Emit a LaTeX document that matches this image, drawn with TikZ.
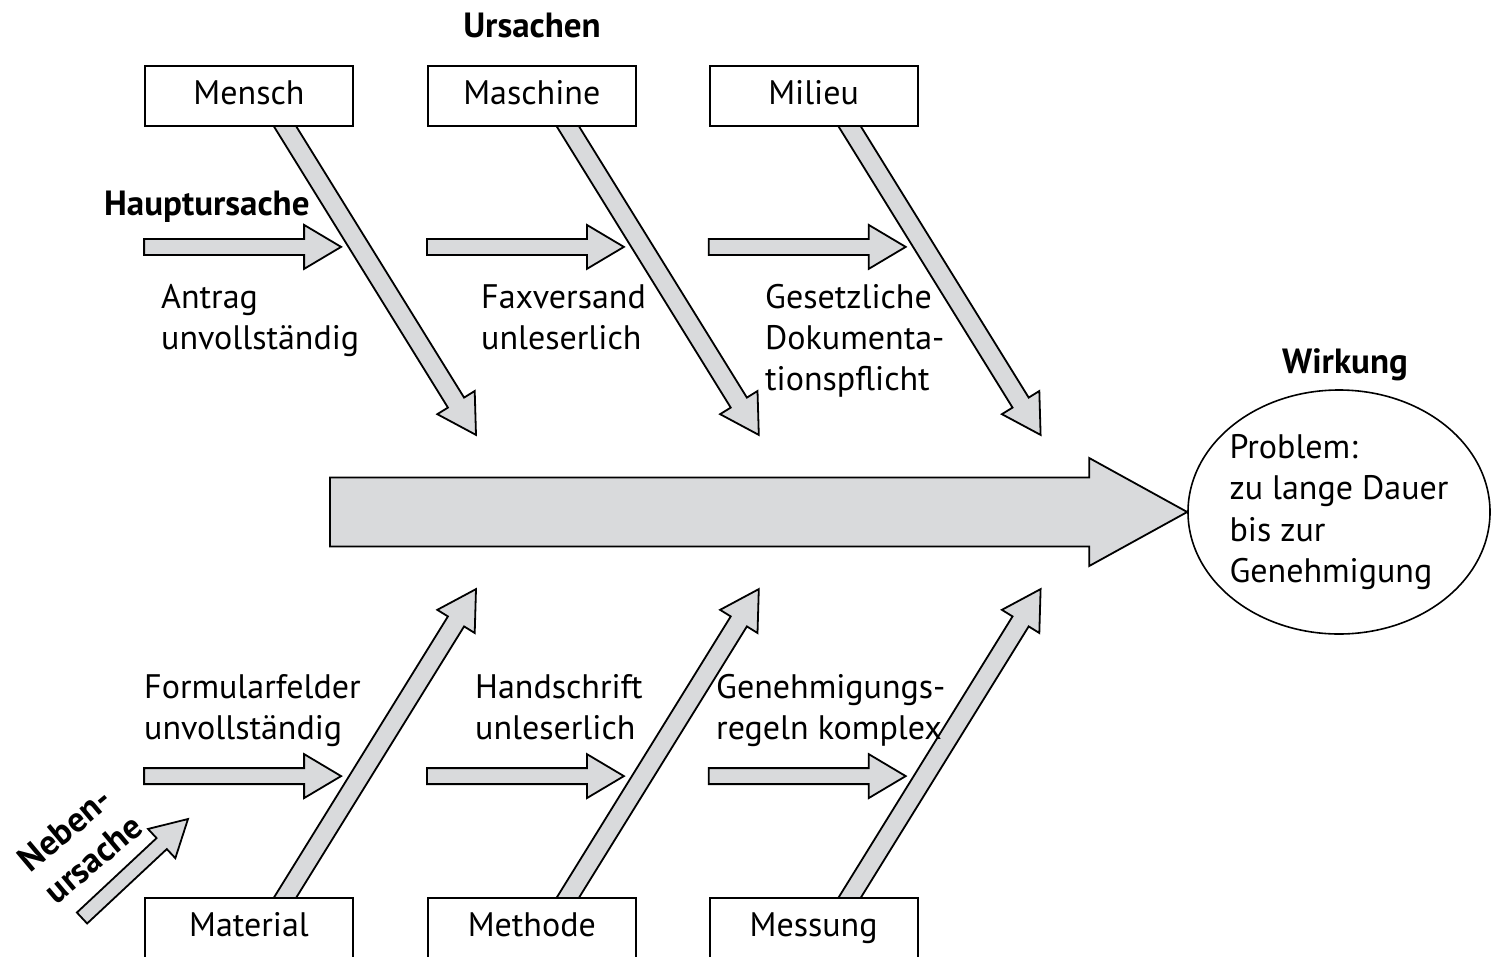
\documentclass[tikz,border=0pt]{standalone}
\usepackage{fontspec}
\setmainfont{PT Sans}
\usetikzlibrary{shapes.geometric, positioning, calc, backgrounds}
\definecolor{arrowgray}{RGB}{217,218,220}
\tikzset{
    cause/.style={rectangle, minimum width=208pt, minimum height=60pt, text height=24pt, text depth=8pt, text centered, draw=black, fill=white, line width=1.8pt, font=\fontsize{34}{41}\selectfont},
    effect/.style={ellipse, draw=black, fill=white, line width=1.6pt, inner xsep=-3pt, inner ysep=0pt, minimum width=302pt, minimum height=244pt, align=left, font=\fontsize{34}{41.5}\selectfont},
    note/.style={align=left, inner sep=0pt, anchor=base west, font=\fontsize{34}{41}\selectfont},
    heading/.style={inner sep=0pt, anchor=base, font=\fontsize{35}{41}\selectfont\bfseries},
    blockarrow/.style={draw=black, fill=arrowgray, line width=1.8pt}
}
% tail, tip, half shaft, half head, head length
\newcommand{\blockarrow}[5]{%
    \draw[blockarrow] ($(#1)!#3!90:(#2)$) -- ($(#2)!#5!(#1)!#3!-90:(#1)$) -- ($(#2)!#5!(#1)!#4!-90:(#1)$) -- (#2)
        -- ($(#2)!#5!(#1)!#4!90:(#1)$) -- ($(#2)!#5!(#1)!#3!90:(#1)$) -- ($(#1)!#3!-90:(#2)$) -- cycle;}

\begin{document}
\begin{tikzpicture}[x=1pt, y=-1pt]
        \useasboundingbox (0,0) rectangle (1491,956);

        % Nodes
        \node (mensch) [cause] at (249,96) {Mensch};
        \node (maschine) [cause, right=73pt of mensch] {Maschine};
        \node (milieu) [cause, right=72pt of maschine] {Milieu};
        \node (material) [cause] at (249,928) {Material};
        \node (methode) [cause, right=73pt of material] {Methode};
        \node (messung) [cause, right=72pt of methode] {Messung};
        \node (problem) [effect] at (1339,512) {Problem:\\zu lange Dauer\\bis zur\\Genehmigung};

        % Headings
        \node (ursachen) [heading] at (532,37) {Ursachen};
        \node (haupt) [heading, anchor=base west] at (104,215) {Hauptursache};
        \node (wirkung) [heading] at (1345,373) {Wirkung};
        \node (neben) [heading, anchor=center, align=left, rotate=40] at (80,843) {Neben-\\ursache};

        % Labels (placed at the baseline of their last line)
        \node (antrag) [note] at (161,349) {Antrag\\unvollständig};
        \node (fax) [note] at (481,349) {Faxversand\\unleserlich};
        \node (gesetz) [note] at (765,390) {Gesetzliche\\Dokumenta-\\tionspflicht};
        \node (formular) [note] at (144,739) {Formularfelder\\unvollständig};
        \node (handschrift) [note] at (475,739) {Handschrift\\unleserlich};
        \node (regeln) [note] at (716,739) {Genehmigungs-\\regeln komplex};

        % Arrow ends
        \coordinate (spine) at (330,512);
        \coordinate (mensch-in) at ($(mensch.south)+(24,-20)$);
        \coordinate (mensch-out) at ($(mensch.south)+(227,308)$);
        \coordinate (maschine-in) at ($(maschine.south)+(24,-20)$);
        \coordinate (maschine-out) at ($(maschine.south)+(227,308)$);
        \coordinate (milieu-in) at ($(milieu.south)+(24,-20)$);
        \coordinate (milieu-out) at ($(milieu.south)+(227,308)$);
        \coordinate (material-in) at ($(material.north)+(24,20)$);
        \coordinate (material-out) at ($(material.north)+(227,-308)$);
        \coordinate (methode-in) at ($(methode.north)+(24,20)$);
        \coordinate (methode-out) at ($(methode.north)+(227,-308)$);
        \coordinate (messung-in) at ($(messung.north)+(24,20)$);
        \coordinate (messung-out) at ($(messung.north)+(227,-308)$);
        \coordinate (antrag-in) at ($(mensch.south west)+(0,120)$);
        \coordinate (antrag-out) at ($(mensch.south west)+(197,120)$);
        \coordinate (fax-in) at ($(maschine.south west)+(0,120)$);
        \coordinate (fax-out) at ($(maschine.south west)+(197,120)$);
        \coordinate (gesetz-in) at ($(milieu.south west)+(0,120)$);
        \coordinate (gesetz-out) at ($(milieu.south west)+(197,120)$);
        \coordinate (formular-in) at ($(material.north west)+(0,-121)$);
        \coordinate (formular-out) at ($(material.north west)+(197,-121)$);
        \coordinate (handschrift-in) at ($(methode.north west)+(0,-121)$);
        \coordinate (handschrift-out) at ($(methode.north west)+(197,-121)$);
        \coordinate (regeln-in) at ($(messung.north west)+(0,-121)$);
        \coordinate (regeln-out) at ($(messung.north west)+(197,-121)$);
        \coordinate (neben-in) at (82,918);
        \coordinate (neben-out) at (188,819);

        % Arrows
        \begin{scope}[on background layer]
            \blockarrow{spine}{problem.west}{34.5pt}{54pt}{98pt}
            \blockarrow{mensch-in}{mensch-out}{9.5pt}{22pt}{38pt}
            \blockarrow{maschine-in}{maschine-out}{9.5pt}{22pt}{38pt}
            \blockarrow{milieu-in}{milieu-out}{9.5pt}{22pt}{38pt}
            \blockarrow{material-in}{material-out}{9.5pt}{22pt}{38pt}
            \blockarrow{methode-in}{methode-out}{9.5pt}{22pt}{38pt}
            \blockarrow{messung-in}{messung-out}{9.5pt}{22pt}{38pt}
            \blockarrow{antrag-in}{antrag-out}{8pt}{22pt}{37pt}
            \blockarrow{fax-in}{fax-out}{8pt}{22pt}{37pt}
            \blockarrow{gesetz-in}{gesetz-out}{8pt}{22pt}{37pt}
            \blockarrow{formular-in}{formular-out}{8pt}{22pt}{37pt}
            \blockarrow{handschrift-in}{handschrift-out}{8pt}{22pt}{37pt}
            \blockarrow{regeln-in}{regeln-out}{8pt}{22pt}{37pt}
            \blockarrow{neben-in}{neben-out}{7.5pt}{20pt}{36pt}
        \end{scope}
    \end{tikzpicture}
\end{document}
